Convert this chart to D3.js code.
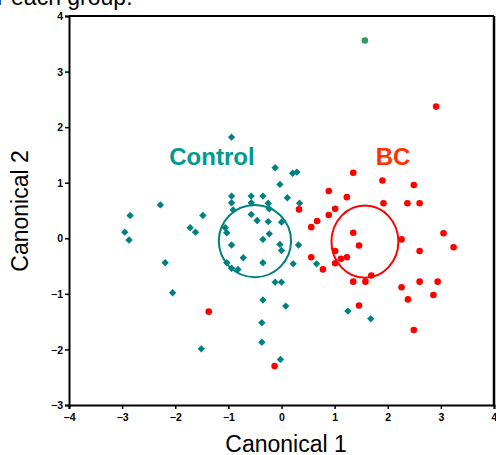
<!DOCTYPE html>
<html>
<head>
<meta charset="utf-8">
<script src="https://cdn.jsdelivr.net/npm/d3@7"></script>
<style>
  html, body { margin: 0; padding: 0; background: #fff; }
  svg { display: block; }
</style>
</head>
<body>
<svg id="chart" width="496" height="455"></svg>
<script>
// ---- data ----
const xTicks = [-4, -3, -2, -1, 0, 1, 2, 3, 4];
const yTicks = [-3, -2, -1, 0, 1, 2, 3, 4];
const groupNames = ["Control", "BC"];

const controlX = [-2.85,-2.95,-2.87,-2.28,-2.19,-2.05,-1.48,-1.72,-1.62,-1.51,
  -0.94,-0.12,0.21,0.29,-0.03,0.11,0.34,-0.94,-0.57,-0.35,
  -0.94,-0.57,-0.25,-0.91,-0.23,-0.57,-0.46,-0.25,0.00,-1.06,
  -1.03,-0.23,-0.35,-0.94,-0.03,0.00,0.32,-0.72,-0.35,-1.03,
  -0.94,-0.82,0.22,0.66,-0.12,0.00,-0.35,0.08,-0.37,-0.37,
  -0.02,1.25,1.68];
const controlY = [0.41,0.11,-0.03,0.60,-0.44,-0.98,0.41,0.19,0.11,-1.99,
  1.82,1.27,1.17,1.19,0.97,0.73,0.63,0.76,0.76,0.76,
  0.64,0.64,0.63,0.51,0.53,0.43,0.32,0.30,0.29,0.19,
  0.10,0.08,-0.02,-0.12,-0.11,-0.22,-0.12,-0.35,-0.44,-0.44,
  -0.54,-0.56,-0.46,-0.46,-0.79,-0.79,-1.11,-1.22,-1.52,-1.87,
  -2.18,-1.31,-1.45];

const bcX = [0.33,1.35,1.90,2.49,0.89,1.23,1.92,2.37,2.60,1.01,
  0.89,0.67,0.56,1.35,1.46,2.26,3.05,3.24,2.60,0.56,
  1.01,1.12,1.23,1.01,0.78,1.69,1.35,1.58,2.26,2.60,
  2.94,2.38,2.86,1.46,2.49,-0.13,-1.37,2.91];
const bcY = [0.52,1.18,1.04,0.96,0.85,0.74,0.63,0.63,0.63,0.53,
  0.42,0.31,0.20,0.10,-0.13,-0.02,0.09,-0.16,-0.23,-0.34,
  -0.23,-0.37,-0.34,-0.45,-0.56,-0.67,-0.78,-0.78,-0.88,-0.78,
  -0.78,-1.10,-1.02,-1.21,-1.65,-2.30,-1.32,2.37];

const otherX = [1.57];
const otherY = [3.56];

// group centroid circles (center x, center y, radius in x units, radius in y units)
const centroidX = [-0.50, 1.57];
const centroidY = [-0.05, -0.06];
const radiusX = [0.68, 0.63];
const radiusY = [0.65, 0.65];
// label anchor positions (data units)
const labelX = [-1.31, 2.10];
const labelY = [1.31, 1.31];

// ---- chart ----
const svg = d3.select("#chart");
const font = "Arial, 'Liberation Sans', Helvetica, sans-serif";
const colControl = "#008080";
const colBC = "#ff0000";

const x = d3.scaleLinear().domain([-4, 4]).range([69, 494]);
const y = d3.scaleLinear().domain([-3, 4]).range([405, 16]);

// caption fragment at top
svg.append("text")
  .attr("x", -3).attr("y", 5)
  .attr("font-family", font).attr("font-size", 23)
  .attr("fill", "#000")
  .text("r each group.");

// frame: top and right lines
svg.append("line").attr("x1", x(-4)).attr("x2", x(4)).attr("y1", y(4)).attr("y2", y(4))
  .attr("stroke", "#000").attr("stroke-width", 2);
svg.append("line").attr("x1", x(4)).attr("x2", x(4)).attr("y1", y(4)).attr("y2", y(-3))
  .attr("stroke", "#000").attr("stroke-width", 2.5);

// axes
const xAxis = svg.append("g").attr("transform", `translate(0,${y(-3)})`)
  .call(d3.axisBottom(x).tickValues(xTicks).tickSize(4).tickPadding(5).tickFormat(d3.format("d")));
const yAxis = svg.append("g").attr("transform", `translate(${x(-4)},0)`)
  .call(d3.axisLeft(y).tickValues(yTicks).tickSize(4).tickPadding(2).tickFormat(d3.format("d")));
[xAxis, yAxis].forEach(g => {
  g.select(".domain").attr("stroke", "#000").attr("stroke-width", 2);
  g.selectAll(".tick line").attr("stroke", "#000").attr("stroke-width", 1.5);
  g.selectAll(".tick text").attr("font-family", font).attr("font-size", 10.5)
    .attr("font-weight", "bold").attr("fill", "#000");
});
yAxis.selectAll(".tick text").attr("dy", "0.35em");
xAxis.selectAll(".tick text").attr("dy", "0.71em");

// axis titles
svg.append("text")
  .attr("x", 286).attr("y", 452)
  .attr("text-anchor", "middle")
  .attr("font-family", font).attr("font-size", 23).attr("fill", "#000")
  .text("Canonical 1");
svg.append("text")
  .attr("transform", "translate(28,211) rotate(-90)")
  .attr("text-anchor", "middle")
  .attr("font-family", font).attr("font-size", 23).attr("fill", "#000")
  .text("Canonical 2");

// centroid circles
const circColors = [colControl, colBC];
svg.append("g").selectAll("ellipse")
  .data(centroidX.map((cx, i) => ({ cx, cy: centroidY[i], rx: radiusX[i], ry: radiusY[i], c: circColors[i] })))
  .join("ellipse")
  .attr("cx", d => x(d.cx)).attr("cy", d => y(d.cy))
  .attr("rx", d => x(d.rx) - x(0)).attr("ry", d => y(0) - y(d.ry))
  .attr("fill", "none").attr("stroke", d => d.c).attr("stroke-width", 2);

// control points (diamonds)
const diamond = d3.symbol().type(d3.symbolSquare).size(27);
svg.append("g").selectAll("path")
  .data(controlX.map((v, i) => [v, controlY[i]]))
  .join("path")
  .attr("d", diamond)
  .attr("transform", d => `translate(${x(d[0])},${y(d[1])}) rotate(45)`)
  .attr("fill", colControl);

// BC points
svg.append("g").selectAll("circle")
  .data(bcX.map((v, i) => [v, bcY[i]]))
  .join("circle")
  .attr("cx", d => x(d[0])).attr("cy", d => y(d[1])).attr("r", 3.3)
  .attr("fill", colBC);

// other point
svg.append("g").selectAll("circle")
  .data(otherX.map((v, i) => [v, otherY[i]]))
  .join("circle")
  .attr("cx", d => x(d[0])).attr("cy", d => y(d[1])).attr("r", 3.3)
  .attr("fill", "#339966");

// group labels
const labelColors = ["#009990", "#ff3300"];
svg.append("g").selectAll("text")
  .data(groupNames.map((n, i) => ({ n, lx: labelX[i], ly: labelY[i], c: labelColors[i] })))
  .join("text")
  .attr("x", d => x(d.lx)).attr("y", d => y(d.ly))
  .attr("text-anchor", "middle")
  .attr("font-family", font).attr("font-size", 24).attr("font-weight", "bold")
  .attr("fill", d => d.c)
  .text(d => d.n);
</script>
</body>
</html>
